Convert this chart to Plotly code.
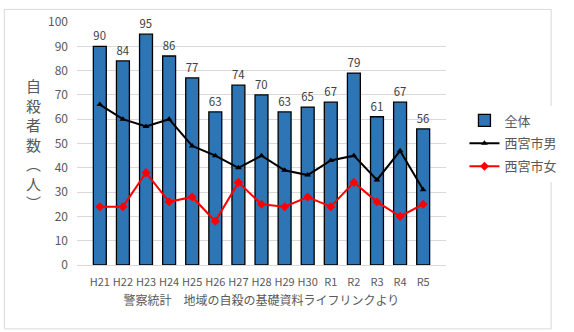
import plotly.graph_objects as go

categories = ["H21","H22","H23","H24","H25","H26","H27","H28","H29","H30","R1","R2","R3","R4","R5"]
total = [90,84,95,86,77,63,74,70,63,65,67,79,61,67,56]
male = [66,60,57,60,49,45,40,45,39,37,43,45,35,47,31]
female = [24,24,38,26,28,18,34,25,24,28,24,34,26,20,25]

FONT = "Noto Sans CJK JP"
W, H = 574, 332
ml, mr, mt, mb = 77, 111, 14, 67

fig = go.Figure()
fig.add_trace(go.Bar(
    x=categories, y=total, name="全体", legendgroup="a",
    marker=dict(color="#2e75b6", line=dict(color="#000000", width=1.3)),
    text=[str(v) for v in total], textposition="outside",
    textfont=dict(size=12, color="#404040", family=FONT),
    cliponaxis=False,
))
fig.add_trace(go.Scatter(
    x=categories, y=male, name="西宮市男", mode="lines+markers", legendgroup="b",
    line=dict(color="#000000", width=2),
    marker=dict(symbol="triangle-up", size=6, color="#000000"),
))
fig.add_trace(go.Scatter(
    x=categories, y=female, name="西宮市女", mode="lines+markers", legendgroup="c",
    line=dict(color="#ff0000", width=2),
    marker=dict(symbol="diamond", size=7, color="#ff0000"),
))

pw = W - ml - mr
ph = H - mt - mb
fig.add_shape(type="rect", xref="paper", yref="paper",
              x0=-(ml - 1) / pw, x1=1 + (mr - 1) / pw,
              y0=-(mb - 1) / ph, y1=1 + (mt - 1) / ph,
              line=dict(color="#d9d9d9", width=1), layer="below")

fig.add_annotation(
    text="自<br>殺<br>者<br>数<br>︵<br>人<br>︶",
    xref="paper", yref="paper", x=-(ml - 31) / pw, y=0.5,
    showarrow=False, font=dict(size=15, color="#595959", family=FONT),
    xanchor="center", yanchor="middle",
)

fig.update_layout(
    width=W, height=H,
    margin=dict(l=ml, r=mr, t=mt, b=mb),
    paper_bgcolor="white", plot_bgcolor="white",
    font=dict(family=FONT, color="#595959"),
    bargap=0.44,
    showlegend=True,
    legend=dict(x=1.05, y=0.5, xanchor="left", yanchor="middle",
                font=dict(size=13, color="#595959", family=FONT),
                traceorder="grouped", tracegroupgap=3, itemwidth=30),
    xaxis=dict(
        showgrid=False, showline=True, linecolor="#d9d9d9", linewidth=1,
        tickfont=dict(size=11, color="#595959"), ticks="", tickangle=0,
        ticklabelstandoff=7,
        title=dict(text="警察統計　地域の自殺の基礎資料ライフリンクより",
                   font=dict(size=12, color="#595959"), standoff=8),
    ),
    yaxis=dict(
        range=[0, 100], dtick=10, showgrid=True, gridcolor="#d9d9d9",
        zeroline=False, showline=False,
        tickfont=dict(size=12, color="#595959"), ticks="", ticklabelstandoff=8,
    ),
)

fig.write_html("out.html")
